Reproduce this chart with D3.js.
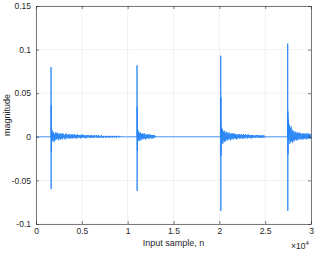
<!DOCTYPE html>
<html>
<head>
<meta charset="utf-8">
<script src="https://cdn.jsdelivr.net/npm/d3@7"></script>
<style>
  body { margin: 0; background: #fff; }
  svg { display: block; }
  text { font-family: "Liberation Sans", Arial, sans-serif; }
</style>
</head>
<body>
<svg id="chart" width="318" height="253"></svg>
<script>
// data
const xTicks = [0, 0.5, 1, 1.5, 2, 2.5, 3];          // x 10^4
const yTicks = [-0.1, -0.05, 0, 0.05, 0.1, 0.15];
const spikeN = [1636, 11018, 20150, 27454];
const spikeHi = [0.080, 0.082, 0.093, 0.107];
const spikeLo = [-0.060, -0.062, -0.085, -0.085];
const spikeMid = [0.036, 0.034, 0.045, 0.029];
const spikeMid2 = [-0.018, -0.016, -0.022, -0.020];
const tailStep = 50;
const tail1 = [0.008,-0.005,0.006,-0.004,0.005,-0.006,0.003,-0.004,0.005,-0.003,
  0.004,-0.003,0.005,-0.002,0.003,-0.004,0.004,-0.002,0.003,-0.003,
  0.004,-0.002,0.003,-0.003,0.004,-0.001,0.003,-0.002,0.002,-0.003,
  0.003,-0.001,0.004,-0.002,0.002,-0.002,0.003,-0.001,0.003,-0.002,
  0.002,-0.002,0.003,-0.001,0.002,-0.002,0.003,-0.001,0.002,-0.001,
  0.003,-0.002,0.002,-0.001,0.002,-0.002,0.003,-0.001,0.002,-0.001,
  0.002,-0.001,0.002,-0.002,0.002,-0.001,0.003,-0.001,0.002,-0.001,
  0.002,-0.001,0.002,-0.001,0.001,-0.002,0.002,-0.001,0.002,0.000,
  0.002,-0.001,0.001,-0.001,0.002,-0.001,0.002,-0.001,0.001,-0.001,
  0.002,-0.001,0.001,-0.001,0.002,0.000,0.001,-0.001,0.002,-0.001,
  0.001,-0.001,0.002,-0.001,0.001,-0.001,0.001,0.000,0.002,-0.001,
  0.001,-0.001,0.001,-0.001,0.001,0.000,0.001,-0.001,0.001,-0.001,
  0.001,0.000,0.001,-0.001,0.001,-0.001,0.001,0.000,0.001,-0.001,
  0.001,0.000,0.001,-0.001,0.001,0.000,0.001,-0.001,0.001,0.000,
  0.001,-0.001,0.001,0.000,0.001,0.000,0.001,-0.001,0.0005,0.000,
  0.0008,-0.0005,0.0005,0.000,0.0005,-0.0005];
const tail2 = [0.008,-0.004,0.006,-0.005,0.004,-0.003,0.005,-0.004,0.003,-0.002,
  0.004,-0.003,0.003,-0.002,0.004,-0.002,0.003,-0.003,0.002,-0.002,
  0.003,-0.001,0.003,-0.002,0.002,-0.002,0.003,-0.001,0.002,-0.002,
  0.002,-0.001,0.002,-0.002,0.002,-0.001,0.002,-0.001,0.001];
const tail3 = [0.011,-0.007,0.009,-0.008,0.006,-0.005,0.007,-0.006,0.004,-0.005,
  0.006,-0.003,0.005,-0.004,0.004,-0.003,0.005,-0.002,0.004,-0.004,
  0.003,-0.003,0.004,-0.002,0.004,-0.003,0.003,-0.002,0.004,-0.002,
  0.003,-0.002,0.003,-0.003,0.002,-0.002,0.003,-0.001,0.003,-0.002,
  0.003,-0.002,0.002,-0.001,0.003,-0.002,0.002,-0.002,0.003,-0.001,
  0.002,-0.002,0.003,-0.001,0.002,-0.001,0.002,-0.002,0.003,-0.001,
  0.002,-0.001,0.002,-0.001,0.002,-0.002,0.002,-0.001,0.002,-0.001,
  0.002,-0.001,0.001,-0.001,0.002,-0.001,0.002,0.000,0.002,-0.001,
  0.002,-0.001,0.001,-0.001,0.002,-0.001,0.001,-0.001,0.002,-0.001,
  0.001,-0.001,0.002,0.000,0.001,-0.001];
const tail4 = [0.020,-0.004,0.014,-0.008,0.010,-0.006,0.012,-0.005,0.008,-0.007,
  0.007,-0.004,0.006,-0.005,0.005,-0.003,0.006,-0.004,0.004,-0.004,
  0.005,-0.003,0.004,-0.003,0.005,-0.002,0.004,-0.003,0.003,-0.003,
  0.004,-0.002,0.004,-0.003,0.003,-0.002,0.004,-0.002,0.003,-0.003,
  0.004,-0.002,0.003,-0.002,0.004,-0.002,0.003,-0.002,0.003,-0.002];
const tails = [tail1, tail2, tail3, tail4];

const svg = d3.select('#chart');
const margin = {top: 6, right: 7, bottom: 29, left: 36};
const width = +svg.attr('width'), height = +svg.attr('height');
const innerWidth = width - margin.left - margin.right;
const innerHeight = height - margin.top - margin.bottom;
const g = svg.append('g').attr('transform', `translate(${margin.left},${margin.top})`);

const x = d3.scaleLinear().domain([0, 30000]).range([0, innerWidth]);
const y = d3.scaleLinear().domain([-0.1, 0.15]).range([innerHeight, 0]);

// build the signal
let pts = [[0, 0]];
spikeN.forEach((n0, i) => {
  pts.push([n0, 0], [n0 + 5, spikeHi[i]], [n0 + 15, spikeLo[i]],
           [n0 + 30, spikeMid[i]], [n0 + 40, spikeMid2[i]]);
  tails[i].forEach((v, j) => pts.push([n0 + 40 + tailStep * (j + 1), v]));
  pts.push([n0 + 40 + tailStep * (tails[i].length + 1), 0]);
});
pts = pts.filter(d => d[0] <= 30000);
pts.push([30000, 0]);

// grid
g.append('g').selectAll('line').data(xTicks).enter().append('line')
  .attr('x1', d => x(d * 1e4)).attr('x2', d => x(d * 1e4))
  .attr('y1', 0).attr('y2', innerHeight)
  .attr('stroke', '#ebebeb').attr('stroke-width', 0.7);
g.append('g').selectAll('line').data(yTicks).enter().append('line')
  .attr('y1', d => y(d)).attr('y2', d => y(d))
  .attr('x1', 0).attr('x2', innerWidth)
  .attr('stroke', '#ebebeb').attr('stroke-width', 0.7);

// signal
g.append('path').datum(pts)
  .attr('fill', 'none').attr('stroke', '#1f80f5').attr('stroke-width', 0.8)
  .attr('d', d3.line().x(d => x(d[0])).y(d => y(d[1])));

// axes (MATLAB style, ticks inward on all sides)
const fmt = d => String(d);
const axStyle = a => {
  a.select('.domain').attr('stroke', '#262626').attr('stroke-width', 0.6);
  a.selectAll('.tick line').attr('stroke', '#262626').attr('stroke-width', 0.6);
  a.selectAll('.tick text').attr('fill', '#262626').style('font-size', '8.5px');
};
const noText = a => a.selectAll('.tick text').remove();
g.append('g').attr('transform', `translate(0,${innerHeight})`)
  .call(d3.axisBottom(x).tickValues(xTicks.map(d => d * 1e4)).tickFormat(d => fmt(d / 1e4))
    .tickSizeInner(-3).tickSizeOuter(0).tickPadding(4))
  .call(axStyle);
g.append('g')
  .call(d3.axisTop(x).tickValues(xTicks.map(d => d * 1e4))
    .tickSizeInner(-3).tickSizeOuter(0))
  .call(axStyle).call(noText);
g.append('g')
  .call(d3.axisLeft(y).tickValues(yTicks).tickFormat(fmt)
    .tickSizeInner(-3).tickSizeOuter(0).tickPadding(5))
  .call(axStyle);
g.append('g').attr('transform', `translate(${innerWidth},0)`)
  .call(d3.axisRight(y).tickValues(yTicks)
    .tickSizeInner(-3).tickSizeOuter(0))
  .call(axStyle).call(noText);

// labels
svg.append('text').attr('x', margin.left + innerWidth / 2).attr('y', 246)
  .attr('text-anchor', 'middle').attr('fill', '#262626').style('font-size', '9px')
  .text('Input sample, n');
svg.append('text').attr('transform', `translate(10,${margin.top + innerHeight / 2}) rotate(-90)`)
  .attr('text-anchor', 'middle').attr('fill', '#262626').style('font-size', '9px')
  .text('magnitude');
const ex = svg.append('text').attr('x', 291).attr('y', 249)
  .attr('fill', '#262626').style('font-size', '8.5px');
ex.append('tspan').text('\u00d710');
ex.append('tspan').attr('dy', -4).style('font-size', '6px').text('4');
</script>
</body>
</html>
